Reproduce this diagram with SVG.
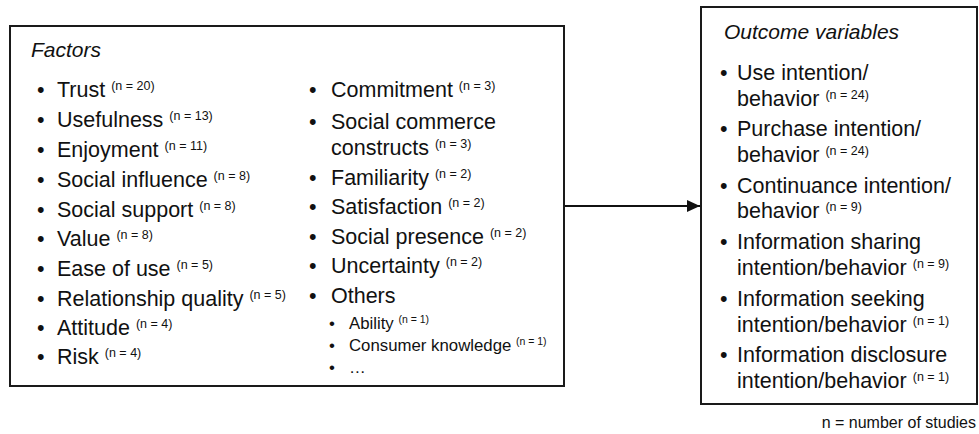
<svg xmlns="http://www.w3.org/2000/svg" width="979" height="434" viewBox="0 0 979 434">
<style>
  .box { fill: #ffffff; stroke: #1a1a1a; stroke-width: 2; }
  text { font-family: "Liberation Sans", Arial, sans-serif; fill: #111111; }
  .title { font-size: 21px; font-style: italic; }
  .item { font-size: 21.5px; }
  .sub { font-size: 16.8px; }
  .sup { font-size: 12.5px; }
  .ssup { font-size: 10.5px; }
  .note { font-size: 16px; }
  .conn { stroke: #111111; stroke-width: 2; fill: none; }
</style>
<defs>
  <marker id="arrow" viewBox="0 0 13 12" refX="13" refY="6" markerWidth="13" markerHeight="12" markerUnits="userSpaceOnUse" orient="auto">
    <polygon points="0,0 13,6 0,12" fill="#111111"/>
  </marker>
</defs>
<rect width="979" height="434" fill="#ffffff"/>

<g id="connectors">
  <line class="conn" x1="564" y1="206" x2="700" y2="206" marker-end="url(#arrow)"/>
</g>

<g id="node-factors">
  <rect class="box" x="10" y="26" width="554" height="360"/>
  <text class="title" x="31" y="57">Factors</text>
  <text class="item" x="37" y="97">•</text>
  <text class="item" x="57" y="97">Trust <tspan class="sup" dy="-7">(n = 20)</tspan></text>
  <text class="item" x="37" y="127">•</text>
  <text class="item" x="57" y="127">Usefulness <tspan class="sup" dy="-7">(n = 13)</tspan></text>
  <text class="item" x="37" y="157">•</text>
  <text class="item" x="57" y="157">Enjoyment <tspan class="sup" dy="-7">(n = 11)</tspan></text>
  <text class="item" x="37" y="187">•</text>
  <text class="item" x="57" y="187">Social influence <tspan class="sup" dy="-7">(n = 8)</tspan></text>
  <text class="item" x="37" y="217">•</text>
  <text class="item" x="57" y="217">Social support <tspan class="sup" dy="-7">(n = 8)</tspan></text>
  <text class="item" x="37" y="246">•</text>
  <text class="item" x="57" y="246">Value <tspan class="sup" dy="-7">(n = 8)</tspan></text>
  <text class="item" x="37" y="276">•</text>
  <text class="item" x="57" y="276">Ease of use <tspan class="sup" dy="-7">(n = 5)</tspan></text>
  <text class="item" x="37" y="306">•</text>
  <text class="item" x="57" y="306">Relationship quality <tspan class="sup" dy="-7">(n = 5)</tspan></text>
  <text class="item" x="37" y="335">•</text>
  <text class="item" x="57" y="335">Attitude <tspan class="sup" dy="-7">(n = 4)</tspan></text>
  <text class="item" x="37" y="364">•</text>
  <text class="item" x="57" y="364">Risk <tspan class="sup" dy="-7">(n = 4)</tspan></text>

  <text class="item" x="309" y="97">•</text>
  <text class="item" x="331" y="97">Commitment <tspan class="sup" dy="-7">(n = 3)</tspan></text>
  <text class="item" x="309" y="129">•</text>
  <text class="item" x="331" y="129">Social commerce</text>
  <text class="item" x="331" y="155">constructs <tspan class="sup" dy="-7">(n = 3)</tspan></text>
  <text class="item" x="309" y="185">•</text>
  <text class="item" x="331" y="185">Familiarity <tspan class="sup" dy="-7">(n = 2)</tspan></text>
  <text class="item" x="309" y="214">•</text>
  <text class="item" x="331" y="214">Satisfaction <tspan class="sup" dy="-7">(n = 2)</tspan></text>
  <text class="item" x="309" y="244">•</text>
  <text class="item" x="331" y="244">Social presence <tspan class="sup" dy="-7">(n = 2)</tspan></text>
  <text class="item" x="309" y="273">•</text>
  <text class="item" x="331" y="273">Uncertainty <tspan class="sup" dy="-7">(n = 2)</tspan></text>
  <text class="item" x="309" y="303">•</text>
  <text class="item" x="331" y="303">Others</text>
  <text class="sub" x="329" y="329">•</text>
  <text class="sub" x="349" y="329">Ability <tspan class="ssup" dy="-6">(n = 1)</tspan></text>
  <text class="sub" x="329" y="351">•</text>
  <text class="sub" x="349" y="351">Consumer knowledge <tspan class="ssup" dy="-6">(n = 1)</tspan></text>
  <text class="sub" x="329" y="373">•</text>
  <text class="sub" x="349" y="373">…</text>
</g>

<g id="node-outcomes">
  <rect class="box" x="701" y="7" width="276" height="397"/>
  <text class="title" x="724" y="39">Outcome variables</text>
  <text class="item" x="720" y="80">•</text>
  <text class="item" x="737" y="80">Use intention/</text>
  <text class="item" x="737" y="106">behavior <tspan class="sup" dy="-7">(n = 24)</tspan></text>
  <text class="item" x="720" y="136">•</text>
  <text class="item" x="737" y="136">Purchase intention/</text>
  <text class="item" x="737" y="162">behavior <tspan class="sup" dy="-7">(n = 24)</tspan></text>
  <text class="item" x="720" y="193">•</text>
  <text class="item" x="737" y="193">Continuance intention/</text>
  <text class="item" x="737" y="218">behavior <tspan class="sup" dy="-7">(n = 9)</tspan></text>
  <text class="item" x="720" y="249">•</text>
  <text class="item" x="737" y="249">Information sharing</text>
  <text class="item" x="737" y="275">intention/behavior <tspan class="sup" dy="-7">(n = 9)</tspan></text>
  <text class="item" x="720" y="306">•</text>
  <text class="item" x="737" y="306">Information seeking</text>
  <text class="item" x="737" y="332">intention/behavior <tspan class="sup" dy="-7">(n = 1)</tspan></text>
  <text class="item" x="720" y="362">•</text>
  <text class="item" x="737" y="362">Information disclosure</text>
  <text class="item" x="737" y="388">intention/behavior <tspan class="sup" dy="-7">(n = 1)</tspan></text>
</g>

<text class="note" x="976" y="428" text-anchor="end">n = number of studies</text>
</svg>
